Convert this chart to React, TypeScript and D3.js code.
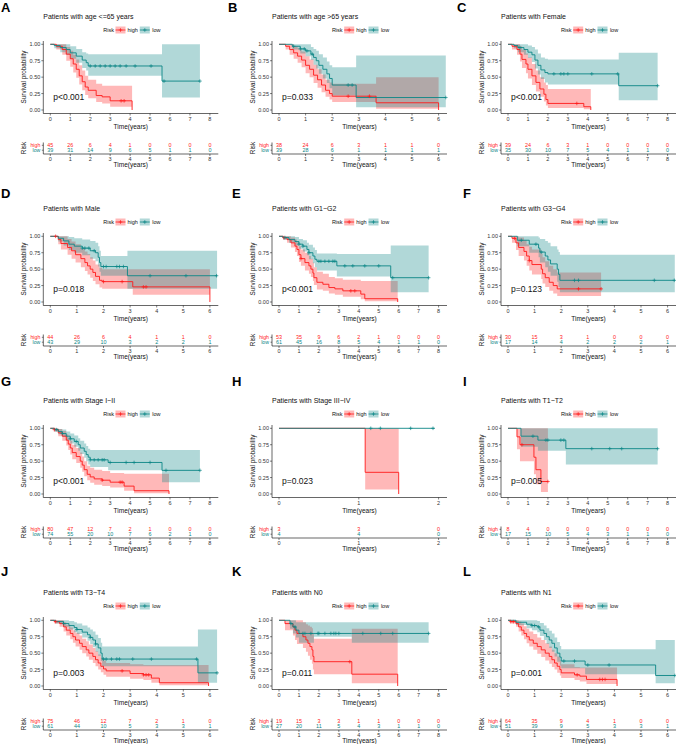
import * as d3 from "d3";

type Step = [number, number, number, number]; // time, survival, lower, upper

const FONT = "'Liberation Sans', Arial, sans-serif";
const HIGH = "#ff1a1a";
const LOW = "#0b8686";

const letters = ["A", "B", "C", "D", "E", "F", "G", "H", "I", "J", "K", "L"];
const titles = [
  "Patients with age <=65 years",
  "Patients with age >65 years",
  "Patients with Female",
  "Patients with Male",
  "Patients with G1\u2212G2",
  "Patients with G3\u2212G4",
  "Patients with Stage I\u2212II",
  "Patients with Stage III\u2212IV",
  "Patients with T1\u2212T2",
  "Patients with T3\u2212T4",
  "Patients with N0",
  "Patients with N1",
];
const pvals = ["p<0.001", "p=0.033", "p<0.001", "p=0.018", "p<0.001", "p=0.123", "p<0.001", "p=0.023", "p=0.005", "p=0.003", "p=0.011", "p=0.001"];
const lastTicks = [8, 6, 8, 6, 8, 6, 8, 2, 8, 6, 8, 6];

const riskHigh = [
  [45, 26, 6, 4, 1, 0, 0, 0, 0],
  [38, 24, 6, 3, 1, 1, 0],
  [39, 24, 6, 3, 1, 0, 0, 0, 0],
  [44, 26, 6, 4, 1, 1, 0],
  [53, 35, 9, 6, 2, 1, 0, 0, 0],
  [30, 15, 3, 1, 0, 0, 0],
  [80, 47, 12, 7, 2, 1, 0, 0, 0],
  [3, 3, 0],
  [8, 4, 0, 0, 0, 0, 0, 0, 0],
  [75, 46, 12, 7, 2, 1, 0],
  [19, 15, 3, 3, 1, 1, 0, 0, 0],
  [64, 35, 9, 4, 1, 0, 0],
];
const riskLow = [
  [39, 31, 14, 9, 6, 5, 1, 1, 0],
  [39, 28, 6, 1, 1, 1, 1],
  [35, 30, 10, 7, 5, 4, 1, 1, 0],
  [43, 29, 10, 3, 2, 2, 1],
  [61, 45, 16, 8, 5, 4, 1, 1, 0],
  [17, 14, 4, 2, 2, 2, 1],
  [74, 55, 20, 10, 7, 6, 2, 1, 0],
  [4, 4, 0],
  [17, 15, 10, 5, 4, 3, 1, 1, 0],
  [61, 44, 10, 5, 3, 3, 1],
  [27, 20, 11, 5, 4, 3, 1, 1, 0],
  [51, 39, 9, 5, 3, 3, 1],
];

const highSteps: Step[][] = [
  [[0,1,1,1],[0.3,0.97,0.92,1],[0.6,0.92,0.84,1],[0.8,0.85,0.75,0.96],[1.0,0.78,0.66,0.9],[1.15,0.7,0.57,0.84],[1.3,0.62,0.49,0.77],[1.45,0.52,0.39,0.68],[1.6,0.43,0.3,0.6],[1.75,0.35,0.23,0.52],[1.9,0.3,0.18,0.46],[2.3,0.22,0.12,0.4],[2.6,0.2,0.1,0.37],[3.0,0.14,0.05,0.37],[4.1,0,0,0]],
  [[0,1,1,1],[0.25,0.97,0.92,1],[0.4,0.92,0.84,1],[0.55,0.87,0.78,0.97],[0.7,0.82,0.72,0.94],[0.85,0.76,0.65,0.89],[1.0,0.68,0.56,0.82],[1.15,0.62,0.5,0.77],[1.3,0.53,0.41,0.69],[1.45,0.46,0.34,0.62],[1.6,0.38,0.27,0.54],[1.75,0.3,0.2,0.46],[1.9,0.25,0.16,0.42],[2.0,0.21,0.12,0.4],[3.65,0.11,0.02,0.5],[6.0,0,0,0]],
  [[0,1,1,1],[0.2,0.97,0.92,1],[0.45,0.92,0.84,1],[0.6,0.85,0.74,0.97],[0.7,0.77,0.64,0.92],[0.9,0.7,0.56,0.86],[1.0,0.62,0.48,0.8],[1.2,0.52,0.38,0.7],[1.4,0.42,0.28,0.6],[1.6,0.32,0.2,0.5],[1.8,0.24,0.13,0.42],[1.9,0.16,0.07,0.38],[2.0,0.1,0.03,0.32],[3.8,0.05,0.01,0.32],[4.15,0,0,0]],
  [[0,1,1,1],[0.3,0.95,0.88,1],[0.4,0.89,0.8,1],[0.65,0.83,0.72,0.96],[0.8,0.78,0.66,0.92],[0.95,0.72,0.6,0.88],[1.15,0.66,0.53,0.82],[1.3,0.6,0.47,0.77],[1.4,0.55,0.42,0.73],[1.5,0.5,0.37,0.68],[1.6,0.45,0.32,0.63],[1.7,0.39,0.27,0.57],[1.85,0.33,0.22,0.52],[1.95,0.31,0.2,0.5],[3.1,0.23,0.11,0.5],[6.0,0,0,0]],
  [[0,1,1,1],[0.2,0.98,0.95,1],[0.4,0.95,0.9,1],[0.6,0.9,0.83,0.98],[0.8,0.85,0.76,0.95],[0.9,0.8,0.7,0.91],[1.0,0.72,0.61,0.85],[1.1,0.66,0.55,0.8],[1.3,0.6,0.48,0.75],[1.5,0.55,0.43,0.7],[1.6,0.5,0.38,0.66],[1.7,0.44,0.32,0.6],[1.75,0.37,0.26,0.53],[1.9,0.3,0.19,0.46],[2.2,0.27,0.17,0.43],[2.5,0.22,0.13,0.38],[2.8,0.2,0.11,0.36],[3.2,0.17,0.08,0.34],[4.1,0.12,0.04,0.32],[4.3,0.05,0.01,0.32],[5.95,0,0,0]],
  [[0,1,1,1],[0.15,0.97,0.9,1],[0.3,0.9,0.79,1],[0.4,0.83,0.7,0.98],[0.6,0.77,0.63,0.94],[0.7,0.7,0.55,0.88],[0.8,0.63,0.48,0.84],[0.9,0.57,0.42,0.8],[1.25,0.5,0.35,0.74],[1.3,0.43,0.28,0.68],[1.4,0.37,0.23,0.62],[1.55,0.3,0.17,0.55],[1.7,0.25,0.13,0.5],[1.85,0.2,0.09,0.45],[3.5,0.2,0.09,0.45]],
  [[0,1,1,1],[0.2,0.98,0.95,1],[0.4,0.93,0.88,0.99],[0.6,0.88,0.81,0.96],[0.8,0.82,0.74,0.91],[0.9,0.76,0.67,0.86],[1.0,0.7,0.6,0.81],[1.1,0.63,0.53,0.75],[1.3,0.57,0.47,0.7],[1.5,0.5,0.4,0.63],[1.6,0.44,0.34,0.57],[1.7,0.37,0.27,0.5],[1.85,0.3,0.21,0.43],[2.0,0.26,0.17,0.4],[2.2,0.23,0.14,0.37],[2.6,0.21,0.12,0.35],[3.0,0.18,0.1,0.32],[3.7,0.12,0.05,0.31],[4.2,0.05,0.01,0.31],[5.95,0,0,0]],
  [[0,1,1,1],[1.08,0.33,0.07,1],[1.5,0,0,0]],
  [[0,1,1,1],[0.45,0.87,0.68,1],[0.6,0.75,0.5,1],[1.3,0.56,0.3,1],[1.4,0.37,0.15,1],[1.65,0.19,0.03,1],[2.0,0.19,0.03,1]],
  [[0,1,1,1],[0.15,0.98,0.95,1],[0.35,0.95,0.9,1],[0.5,0.9,0.83,0.97],[0.6,0.85,0.77,0.93],[0.75,0.8,0.71,0.89],[0.85,0.75,0.66,0.85],[0.95,0.7,0.6,0.81],[1.1,0.65,0.55,0.77],[1.2,0.6,0.5,0.72],[1.35,0.55,0.45,0.68],[1.45,0.5,0.4,0.63],[1.6,0.45,0.35,0.58],[1.7,0.4,0.3,0.53],[1.8,0.35,0.25,0.48],[1.9,0.3,0.21,0.43],[2.0,0.26,0.17,0.39],[2.1,0.23,0.14,0.35],[3.0,0.19,0.11,0.33],[3.5,0.17,0.09,0.32],[3.8,0.12,0.05,0.32],[4.1,0.05,0.01,0.32],[5.95,0,0,0]],
  [[0,1,1,1],[0.3,0.95,0.85,1],[0.7,0.9,0.77,1],[0.8,0.85,0.7,1],[0.9,0.8,0.64,1],[1.2,0.75,0.58,0.97],[1.35,0.7,0.52,0.94],[1.45,0.65,0.46,0.92],[1.55,0.6,0.4,0.9],[1.65,0.55,0.34,0.88],[1.7,0.45,0.25,0.8],[1.75,0.37,0.18,0.72],[3.65,0.18,0.04,0.87],[5.95,0,0,0]],
  [[0,1,1,1],[0.1,0.98,0.95,1],[0.3,0.95,0.9,1],[0.4,0.9,0.83,0.98],[0.5,0.85,0.77,0.95],[0.6,0.8,0.71,0.91],[0.7,0.75,0.65,0.87],[0.8,0.7,0.6,0.83],[0.95,0.65,0.55,0.79],[1.1,0.6,0.49,0.74],[1.25,0.55,0.44,0.7],[1.4,0.5,0.39,0.65],[1.55,0.45,0.34,0.6],[1.65,0.4,0.29,0.55],[1.75,0.35,0.25,0.5],[1.85,0.3,0.2,0.45],[1.95,0.25,0.16,0.39],[2.0,0.2,0.12,0.33],[2.5,0.17,0.09,0.29],[2.7,0.15,0.07,0.28],[2.95,0.1,0.03,0.28],[4.1,0,0,0]],
];

const lowSteps: Step[][] = [
  [[0,1,1,1],[0.2,0.98,0.94,1],[0.5,0.95,0.88,1],[0.8,0.92,0.84,1],[1.0,0.87,0.78,0.97],[1.3,0.82,0.72,0.93],[1.6,0.76,0.64,0.88],[1.8,0.72,0.6,0.86],[1.9,0.67,0.52,0.85],[5.6,0.44,0.19,1],[7.5,0.44,0.19,1]],
  [[0,1,1,1],[0.5,0.97,0.92,1],[0.8,0.93,0.86,1],[1.0,0.9,0.82,1],[1.2,0.85,0.76,0.96],[1.3,0.8,0.69,0.93],[1.4,0.75,0.63,0.9],[1.5,0.68,0.55,0.85],[1.65,0.62,0.48,0.8],[1.8,0.55,0.41,0.74],[1.9,0.48,0.33,0.68],[2.0,0.38,0.22,0.65],[2.9,0.19,0.04,0.83],[6.27,0.19,0.04,0.83]],
  [[0,1,1,1],[0.3,0.98,0.94,1],[0.5,0.95,0.88,1],[0.8,0.92,0.84,1],[1.0,0.88,0.79,0.98],[1.2,0.84,0.73,0.96],[1.35,0.76,0.63,0.92],[1.5,0.68,0.54,0.86],[1.65,0.61,0.47,0.8],[1.85,0.57,0.42,0.78],[2.0,0.55,0.39,0.77],[5.55,0.37,0.15,0.87],[7.5,0.37,0.15,0.87]],
  [[0,1,1,1],[0.3,0.97,0.92,1],[0.5,0.93,0.86,1],[0.7,0.88,0.79,0.99],[0.9,0.85,0.75,0.97],[1.2,0.82,0.71,0.95],[1.5,0.78,0.66,0.93],[1.7,0.75,0.62,0.9],[1.8,0.68,0.54,0.85],[1.85,0.6,0.46,0.78],[1.9,0.54,0.4,0.7],[2.9,0.4,0.2,0.78],[6.27,0.4,0.2,0.78]],
  [[0,1,1,1],[0.2,0.98,0.95,1],[0.5,0.95,0.9,1],[0.8,0.92,0.86,0.99],[1.0,0.88,0.81,0.96],[1.2,0.85,0.77,0.94],[1.4,0.8,0.71,0.9],[1.5,0.75,0.65,0.87],[1.7,0.7,0.59,0.83],[1.8,0.65,0.53,0.79],[1.9,0.62,0.48,0.74],[2.9,0.55,0.39,0.73],[5.6,0.37,0.15,0.86],[7.5,0.37,0.15,0.86]],
  [[0,1,1,1],[0.35,0.94,0.85,1],[0.8,0.88,0.75,1],[1.15,0.82,0.68,0.98],[1.2,0.76,0.6,0.96],[1.4,0.7,0.53,0.93],[1.5,0.64,0.46,0.9],[1.6,0.58,0.4,0.85],[1.85,0.5,0.31,0.8],[1.9,0.42,0.23,0.76],[1.95,0.33,0.15,0.72],[6.27,0.33,0.15,0.72]],
  [[0,1,1,1],[0.2,0.98,0.95,1],[0.4,0.95,0.91,0.99],[0.6,0.92,0.87,0.98],[0.8,0.88,0.82,0.95],[1.0,0.84,0.77,0.92],[1.2,0.8,0.72,0.89],[1.4,0.75,0.66,0.85],[1.5,0.7,0.61,0.81],[1.7,0.65,0.55,0.77],[1.8,0.6,0.5,0.73],[1.9,0.56,0.45,0.69],[2.0,0.52,0.41,0.67],[2.9,0.48,0.36,0.67],[5.6,0.36,0.18,0.67],[7.5,0.36,0.18,0.67]],
  [[0,1,1,1],[1.95,1,1,1]],
  [[0,1,1,1],[0.65,0.88,0.72,1],[1.5,0.82,0.66,1],[2.9,0.69,0.45,1],[7.5,0.69,0.45,1]],
  [[0,1,1,1],[0.2,0.98,0.95,1],[0.5,0.95,0.9,1],[0.7,0.92,0.86,0.99],[0.9,0.89,0.82,0.97],[1.0,0.86,0.79,0.95],[1.2,0.82,0.74,0.92],[1.4,0.78,0.69,0.89],[1.5,0.74,0.64,0.86],[1.6,0.7,0.59,0.83],[1.7,0.64,0.52,0.78],[1.8,0.58,0.46,0.73],[1.9,0.5,0.38,0.66],[1.95,0.41,0.3,0.6],[5.55,0.2,0.05,0.86],[6.27,0.2,0.05,0.86]],
  [[0,1,1,1],[0.55,0.95,0.87,1],[0.7,0.9,0.8,1],[0.85,0.85,0.74,0.97],[1.0,0.8,0.66,0.97],[1.75,0.8,0.75,0.97],[3.65,0.8,0.66,0.97],[7.5,0.8,0.66,0.97]],
  [[0,1,1,1],[0.3,0.97,0.93,1],[0.7,0.94,0.88,1],[0.9,0.92,0.85,1],[1.1,0.9,0.82,0.99],[1.2,0.85,0.76,0.96],[1.35,0.8,0.7,0.92],[1.45,0.75,0.64,0.88],[1.55,0.7,0.58,0.84],[1.65,0.65,0.52,0.8],[1.75,0.58,0.45,0.74],[1.85,0.5,0.37,0.67],[1.95,0.44,0.31,0.61],[2.0,0.38,0.27,0.56],[2.9,0.32,0.18,0.56],[5.55,0.16,0.04,0.7],[6.27,0.16,0.04,0.7]],
];

const highCens = [
  [3.55, 3.7], [2.6, 3.4], [3.45], [0.2, 2.0, 2.7, 3.5, 3.6], [0.25, 1.1, 3.6, 3.8], [0.25, 0.8, 2.65, 3.5],
  [0.2, 2.6, 3.5, 3.6], [], [0.7, 2.0], [0.2, 2.7, 3.5, 3.6, 3.7], [3.55], [0.1, 0.2, 2.6, 3.45, 3.55, 3.65],
];
const lowCens = [
  [2.0, 2.25, 2.5, 2.75, 3.0, 3.25, 3.5, 3.8, 4.25, 5.05, 5.7, 7.5],
  [0.55, 0.8, 0.95, 1.05, 1.25, 2.6, 2.75, 6.27],
  [0.6, 2.3, 2.65, 2.8, 3.0, 4.2, 5.5, 7.5],
  [1.2, 1.3, 1.45, 1.65, 2.0, 2.1, 2.5, 2.6, 2.75, 3.75, 5.1, 6.25],
  [0.3, 1.0, 1.2, 1.5, 2.0, 2.1, 2.3, 2.5, 2.7, 2.8, 3.3, 3.7, 4.3, 5.0, 5.7, 7.5],
  [0.5, 1.05, 1.25, 2.5, 2.65, 5.5, 6.25],
  [0.3, 0.6, 1.0, 1.3, 2.0, 2.2, 2.4, 2.6, 2.7, 3.0, 3.8, 4.2, 5.0, 5.8, 7.5],
  [1.15, 1.27, 1.65, 1.93],
  [1.25, 1.9, 2.0, 2.65, 2.8, 4.2, 5.1, 5.7, 7.5],
  [0.5, 1.0, 1.5, 1.7, 2.0, 2.1, 2.3, 2.5, 2.6, 3.1, 3.8, 5.5, 6.27],
  [0.6, 0.8, 1.2, 1.3, 1.6, 1.95, 2.0, 2.3, 2.6, 2.75, 2.85, 3.0, 4.2, 5.1, 5.7, 7.5],
  [0.9, 1.0, 1.15, 2.1, 2.5, 3.0, 3.8, 6.27],
];

const colTick0 = [50.3, 279, 508];
const letterX = [[1, 228, 457], [1, 232, 463], [1, 232, 463], [1, 232, 463]];
const letterY = [12, 198, 386, 576];
const yTicks = [0, 0.25, 0.5, 0.75, 1];

const survAt = (steps: Step[], t: number) => {
  let s = steps[0][1];
  for (const d of steps) if (d[0] <= t) s = d[1];
  return s;
};

const Cross = ({ cx, cy, color }: { cx: number; cy: number; color: string }) => (
  <path d={`M${cx - 1.8},${cy}H${cx + 1.8}M${cx},${cy - 1.8}V${cy + 1.8}`} stroke={color} strokeWidth={0.7} />
);

const Panel = ({ i }: { i: number }) => {
  const col = i % 3;
  const row = Math.floor(i / 3);
  const oy = row * 192;
  const t0 = colTick0[col];
  const last = lastTicks[i];
  const x = d3.scaleLinear().domain([0, last]).range([t0, t0 + 159.6]);
  const y = d3.scaleLinear().domain([0, 1]).range([oy + 110, oy + 44.3]);
  const left = t0 - 7;
  const right = t0 + 168;
  const cx = (left + right) / 2;
  const ticks = d3.range(0, last + 1);
  const line = d3.line<Step>().x((d) => x(d[0])).y((d) => y(d[1])).curve(d3.curveStepAfter);
  const band = d3.area<Step>().x((d) => x(d[0])).y0((d) => y(d[2])).y1((d) => y(d[3])).curve(d3.curveStepAfter);
  const txt = { fontFamily: FONT };
  const ly = oy + 30;
  const rHigh = oy + 145.3;
  const rLow = oy + 150.2;
  const rAxis = oy + 154;

  const key = (kx: number, color: string, fill: string) => (
    <g>
      <rect x={kx} y={ly - 3.5} width={10} height={7} fill={fill} />
      <line x1={kx} x2={kx + 10} y1={ly} y2={ly} stroke={color} strokeWidth={0.8} />
      <Cross cx={kx + 5} cy={ly} color={color} />
    </g>
  );

  return (
    <g style={txt}>
      <text x={letterX[row][col]} y={letterY[row]} fontSize={13} fontWeight="bold" fill="#000">{letters[i]}</text>
      <text x={left} y={oy + 16} fontSize={7} dominantBaseline="central" fill="#111">{titles[i]}</text>
      {/* legend */}
      <text x={cx - 27.6} y={ly} fontSize={5.5} dominantBaseline="central" fill="#111">Risk</text>
      {key(cx - 15.3, HIGH, "rgba(255,0,0,0.28)")}
      <text x={cx - 3.3} y={ly} fontSize={5.5} dominantBaseline="central" fill="#111">high</text>
      {key(cx + 9, LOW, "rgba(11,134,134,0.32)")}
      <text x={cx + 21.4} y={ly} fontSize={5.5} dominantBaseline="central" fill="#111">low</text>

      {/* bands and curves */}
      <path d={band(highSteps[i]) || ""} fill="rgba(255,0,0,0.28)" />
      <path d={band(lowSteps[i]) || ""} fill="rgba(11,134,134,0.32)" />
      <path d={line(highSteps[i]) || ""} fill="none" stroke={HIGH} strokeWidth={0.9} />
      <path d={line(lowSteps[i]) || ""} fill="none" stroke={LOW} strokeWidth={0.9} />
      {highCens[i].map((c, k) => <Cross key={"h" + k} cx={x(c)} cy={y(survAt(highSteps[i], c))} color={HIGH} />)}
      {lowCens[i].map((c, k) => <Cross key={"l" + k} cx={x(c)} cy={y(survAt(lowSteps[i], c))} color={LOW} />)}

      {/* axes */}
      <line x1={left} x2={left} y1={oy + 41} y2={oy + 113.5} stroke="#000" strokeWidth={0.6} />
      <line x1={left} x2={right} y1={oy + 113.5} y2={oy + 113.5} stroke="#000" strokeWidth={0.6} />
      {yTicks.map((v) => (
        <g key={v}>
          <line x1={left - 2} x2={left} y1={y(v)} y2={y(v)} stroke="#000" strokeWidth={0.5} />
          <text x={left - 3} y={y(v)} fontSize={5.5} textAnchor="end" dominantBaseline="central" fill="#333">{d3.format(".2f")(v)}</text>
        </g>
      ))}
      {ticks.map((t) => (
        <g key={t}>
          <line x1={x(t)} x2={x(t)} y1={oy + 113.5} y2={oy + 115.5} stroke="#000" strokeWidth={0.5} />
          <text x={x(t)} y={oy + 118.8} fontSize={5.5} textAnchor="middle" dominantBaseline="central" fill="#333">{t}</text>
        </g>
      ))}
      <text x={cx} y={oy + 126} fontSize={6.5} textAnchor="middle" dominantBaseline="central" fill="#111">Time(years)</text>
      <text transform={`translate(${t0 - 27},${oy + 77}) rotate(-90)`} fontSize={6.3} textAnchor="middle" dominantBaseline="central" fill="#111">Survival probability</text>
      <text x={t0 + 3} y={y(0.2)} fontSize={8.5} dominantBaseline="central" fill="#111">{pvals[i]}</text>

      {/* risk table */}
      <text x={left - 3} y={rHigh} fontSize={5.2} textAnchor="end" dominantBaseline="central" fill={HIGH}>high</text>
      <text x={left - 3} y={rLow} fontSize={5.2} textAnchor="end" dominantBaseline="central" fill={LOW}>low</text>
      <line x1={left} x2={left} y1={oy + 142.5} y2={rAxis} stroke="#000" strokeWidth={0.6} />
      <line x1={left - 1.5} x2={left} y1={rHigh} y2={rHigh} stroke="#000" strokeWidth={0.5} />
      <line x1={left - 1.5} x2={left} y1={rLow} y2={rLow} stroke="#000" strokeWidth={0.5} />
      <line x1={left} x2={right} y1={rAxis} y2={rAxis} stroke="#000" strokeWidth={0.6} />
      {ticks.map((t, k) => (
        <g key={"r" + t}>
          <text x={x(t)} y={rHigh} fontSize={5.4} textAnchor="middle" dominantBaseline="central" fill={HIGH}>{riskHigh[i][k]}</text>
          <text x={x(t)} y={rLow} fontSize={5.4} textAnchor="middle" dominantBaseline="central" fill={LOW}>{riskLow[i][k]}</text>
          <line x1={x(t)} x2={x(t)} y1={rAxis} y2={rAxis + 2} stroke="#000" strokeWidth={0.5} />
          <text x={x(t)} y={oy + 158.5} fontSize={5.5} textAnchor="middle" dominantBaseline="central" fill="#333">{t}</text>
        </g>
      ))}
      <text x={cx} y={oy + 164.5} fontSize={6.5} textAnchor="middle" dominantBaseline="central" fill="#111">Time(years)</text>
      <text transform={`translate(${t0 - 27},${oy + 148}) rotate(-90)`} fontSize={6.3} textAnchor="middle" dominantBaseline="central" fill="#111">Risk</text>
    </g>
  );
};

export default function App() {
  return (
    <svg width={676} height={744} style={{ position: "absolute", left: 0, top: 0, background: "#fff" }}>
      <rect width={676} height={744} fill="#fff" />
      {letters.map((_, i) => <Panel key={i} i={i} />)}
    </svg>
  );
}
